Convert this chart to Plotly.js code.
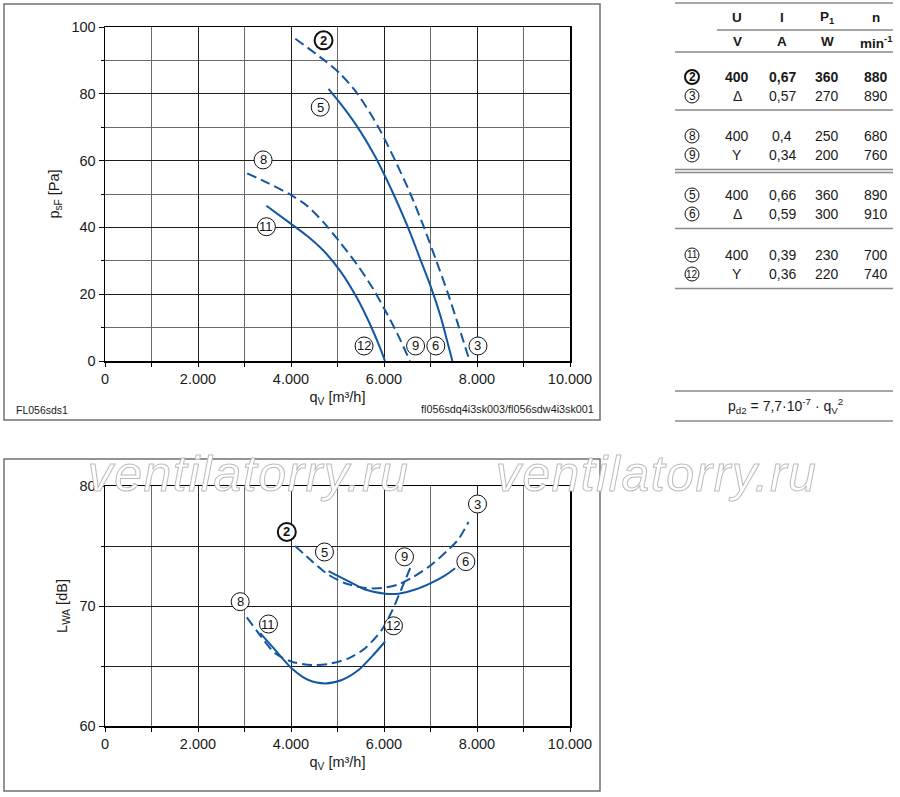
<!DOCTYPE html>
<html><head><meta charset="utf-8">
<script src="https://cdn.plot.ly/plotly-3.0.1.min.js"></script>
<style>
html,body{margin:0;padding:0;background:#fff;}
#chart{width:900px;height:797px;}
g.annotation[data-index="0"] text, g.annotation[data-index="1"] text{fill:#ffffff !important;stroke:#bcbcbc;stroke-width:1px;letter-spacing:1.5px;}
</style></head>
<body><div id="chart"></div>
<script>
// ---------- data: static pressure p_sF [Pa] vs q_V [m3/h] ----------
const psQ_2_3  = [4093, 4720, 5057, 5430, 5880, 6240, 6570, 6860, 7125, 7380, 7615, 7843];
const psV_2_3  = [96.5, 90, 86, 80, 70, 60, 50, 40, 30, 20, 10, 0];
const psQ_5_6  = [4807, 5057, 5414, 5771, 6000, 6271, 6557, 6771, 7000, 7214, 7343, 7471];
const psV_5_6  = [81.5, 77.2, 70.4, 62.2, 56, 47.9, 38.6, 30.8, 22.5, 13.5, 6.8, 0];
const psQ_8_9  = [3057, 3486, 3986, 4343, 4700, 5057, 5414, 5771, 6000, 6286, 6557];
const psV_8_9  = [56.2, 53.4, 49.8, 46.5, 41.5, 35.5, 29, 21.5, 15.8, 8.2, 0];
const psQ_11_12 = [3471, 3986, 4343, 4700, 5057, 5414, 5700, 5914, 6021];
const psV_11_12 = [46.5, 41.2, 37.5, 33, 27, 19, 11, 4, 0];

// ---------- data: sound power L_WA [dB] vs q_V [m3/h] ----------
const lwQ_2_3  = [4090, 4448, 4806, 5165, 5595, 5953, 6312, 6599, 7029, 7387, 7602, 7817];
const lwV_2_3  = [75.0, 73.74, 72.6, 71.9, 71.5, 71.5, 71.8, 72.35, 73.46, 74.7, 75.56, 77.0];
const lwQ_5_6  = [4806, 5165, 5595, 6025, 6312, 6670, 7029, 7315, 7530];
const lwV_5_6  = [72.9, 72.2, 71.37, 71.03, 71.03, 71.37, 71.95, 72.55, 73.15];
const lwQ_8_9  = [3050, 3301, 3659, 4018, 4448, 4806, 5237, 5595, 5953, 6168, 6384, 6563];
const lwV_8_9  = [69.05, 67.74, 66.06, 65.36, 65.08, 65.17, 65.64, 66.48, 68.02, 69.55, 71.5, 73.15];
const lwQ_11_12 = [3337, 3659, 4018, 4376, 4735, 5093, 5452, 5738, 6025];
const lwV_11_12 = [67.74, 66.34, 64.8, 63.83, 63.55, 63.83, 64.66, 65.78, 67.04];

// ---------- tick labels ----------
const qTickVals = [0, 2000, 4000, 6000, 8000, 10000];
const qTickText = ['0', '2.000', '4.000', '6.000', '8.000', '10.000'];
const psTickVals = [0, 20, 40, 60, 80, 100];
const psTickText = ['0', '20', '40', '60', '80', '100'];
const lwTickVals = [60, 70, 80];
const lwTickText = ['60', '70', '80'];

// ---------- table ----------
const tblIds  = ['2', '3', '8', '9', '5', '6', '11', '12'];
const tblU    = ['400', 'Δ', '400', 'Y', '400', 'Δ', '400', 'Y'];
const tblI    = ['0,67', '0,57', '0,4', '0,34', '0,66', '0,59', '0,39', '0,36'];
const tblP    = ['360', '270', '250', '200', '360', '300', '230', '220'];
const tblN    = ['880', '890', '680', '760', '890', '910', '700', '740'];
const tblHead = ['U', 'I', 'P<sub>1</sub>', 'n'];
const tblUnit = ['V', 'A', 'W', 'min<sup>-1</sup>'];

// ---------- label placement (layout) ----------
const psLabels = [
  {t:'2', x:4700, y:96, b:true}, {t:'5', x:4629, y:76}, {t:'8', x:3400, y:60.2}, {t:'11', x:3471, y:40.2},
  {t:'12', x:5571, y:4.5}, {t:'9', x:6679, y:4.5}, {t:'6', x:7114, y:4.5}, {t:'3', x:8021, y:4.5}
];
const lwLabels = [
  {t:'2', x:3910, y:76.17, b:true}, {t:'5', x:4720, y:74.5}, {t:'3', x:8011, y:78.5}, {t:'9', x:6441, y:74.1},
  {t:'6', x:7760, y:73.7}, {t:'8', x:2907, y:70.36}, {t:'11', x:3516, y:68.5}, {t:'12', x:6204, y:68.35}
];

const FONT = 'Liberation Sans, Arial, sans-serif';
const px = x => x / 900;
const py = y => 1 - y / 797;
const blue = 'rgb(18,88,160)';

function curve(q, v, dashed, xa, ya) {
  return {type:'scatter', mode:'lines', x:q, y:v, xaxis:xa, yaxis:ya,
    line:{color:blue, width:2, shape:'spline', smoothing:0.8, dash: dashed ? '10px,5px' : 'solid'},
    hoverinfo:'skip', showlegend:false};
}

const traces = [
  curve(psQ_2_3, psV_2_3, true, 'x', 'y'),
  curve(psQ_5_6, psV_5_6, false, 'x', 'y'),
  curve(psQ_8_9, psV_8_9, true, 'x', 'y'),
  curve(psQ_11_12, psV_11_12, false, 'x', 'y'),
  curve(lwQ_2_3, lwV_2_3, true, 'x2', 'y2'),
  curve(lwQ_5_6, lwV_5_6, false, 'x2', 'y2'),
  curve(lwQ_8_9, lwV_8_9, true, 'x2', 'y2'),
  curve(lwQ_11_12, lwV_11_12, false, 'x2', 'y2')
];

const shapes = [];
const annotations = [];

// watermark (index 0 and 1)
annotations.push({xref:'paper', yref:'paper', x:px(248), y:py(474), text:'ventilatorry.ru', showarrow:false,
  xanchor:'center', yanchor:'middle', font:{family:FONT, size:50, style:'italic', color:'#bcbcbc'}});
annotations.push({xref:'paper', yref:'paper', x:px(656), y:py(474), text:'ventilatorry.ru', showarrow:false,
  xanchor:'center', yanchor:'middle', font:{family:FONT, size:50, style:'italic', color:'#bcbcbc'}});

function circled(x, y, t, bold, xref, yref, r, fs) {
  shapes.push({type:'circle', xref:xref, yref:yref, xsizemode:'pixel', ysizemode:'pixel',
    xanchor:x, yanchor:y, x0:-r, x1:r, y0:-r, y1:r,
    line:{color:'#111', width: bold ? 2 : 1}, fillcolor:'#fff', layer:'above'});
  annotations.push({x:x, y:y, xref:xref, yref:yref, text: bold ? '<b>' + t + '</b>' : t, showarrow:false,
    xanchor:'center', yanchor:'middle', font:{family:FONT, size:fs, color:'#111'}});
}
psLabels.forEach(l => circled(l.x, l.y, l.t, !!l.b, 'x', 'y', 9, 13));
lwLabels.forEach(l => circled(l.x, l.y, l.t, !!l.b, 'x2', 'y2', 9, 13));

// frames
const frameLine = {color:'#707070', width:1.5};
shapes.push({type:'rect', xref:'paper', yref:'paper', x0:px(4), x1:px(600), y0:py(420), y1:py(4), line:frameLine, layer:'below'});
shapes.push({type:'rect', xref:'paper', yref:'paper', x0:px(4), x1:px(600), y0:py(791), y1:py(459), line:frameLine, layer:'below'});

// table lines
const tl = {color:'#8a8a8a', width:1.5};
function hline(y, x0, x1) { shapes.push({type:'line', xref:'paper', yref:'paper', x0:px(x0), x1:px(x1), y0:py(y), y1:py(y), line:tl}); }
hline(3, 675, 893); hline(30, 717, 893); hline(52, 675, 893); hline(110, 675, 893);
hline(169.5, 675, 893); hline(172.5, 675, 893); hline(228.5, 675, 893); hline(288.5, 675, 893);
hline(391, 675, 893); hline(421, 675, 893);

// table text
const colX = [737, 782, 827, 876];
const rowY = [77, 96, 136, 155, 195, 214, 255, 274];
function ptext(x, y, txt, size, bold, anchor) {
  annotations.push({xref:'paper', yref:'paper', x:px(x), y:py(y), text: bold ? '<b>' + txt + '</b>' : txt,
    showarrow:false, xanchor: anchor || 'center', yanchor:'middle', font:{family:FONT, size:size, color:'#1a1a1a'}});
}
tblHead.forEach((h, i) => ptext(colX[i], 17, h, 13.5, true));
tblUnit.forEach((h, i) => ptext(colX[i], 42, h, 13.5, true));
tblIds.forEach((id, r) => {
  const bold = (r === 0);
  circled(px(692), py(rowY[r]), id, bold, 'paper', 'paper', 7, id.length > 1 ? 10 : 12);
  ptext(colX[0], rowY[r], tblU[r], 14, bold);
  ptext(colX[1], rowY[r], tblI[r], 14, bold);
  ptext(colX[2], rowY[r], tblP[r], 14, bold);
  ptext(colX[3], rowY[r], tblN[r], 14, bold);
});
ptext(785, 406, 'p<sub>d2</sub> = 7,7·10<sup>-7</sup> · q<sub>V</sub><sup>2</sup>', 14, false);

// footer notes
ptext(14, 410, 'FL056sds1', 10.5, false, 'left');
annotations.push({xref:'paper', yref:'paper', x:px(596), y:py(409), text:'fl056sdq4i3sk003/fl056sdw4i3sk001',
  showarrow:false, xanchor:'right', yanchor:'middle', font:{family:'Liberation Sans Narrow, Liberation Sans, Arial Narrow, sans-serif', size:10.8, color:'#1a1a1a'}});

const tickFont = {family:FONT, size:14.5, color:'#1a1a1a'};
const titleFont = {family:FONT, size:14.5, color:'#1a1a1a'};
function xAxis(dom, anchor, minorGrid) {
  return {domain:dom, anchor:anchor, range:[0, 10000], tickmode:'array', tickvals:qTickVals, ticktext:qTickText,
    showgrid:true, gridcolor:'#1e1e1e', gridwidth:1, zeroline:false,
    showline:true, mirror:true, linecolor:'#000', linewidth:1.5,
    ticks:'outside', ticklen:4, tickcolor:'#000', tickfont:tickFont,
    minor:{tickmode:'linear', tick0:0, dtick:1000, showgrid:true, gridcolor:minorGrid, gridwidth:1, ticks:'outside', ticklen:4, tickcolor:'#000'},
    title:{text:'q<sub>V</sub> [m³/h]', font:titleFont, standoff:6}, automargin:false, fixedrange:true};
}
const layout = {
  width:900, height:797, margin:{l:0, r:0, t:0, b:0}, paper_bgcolor:'#fff', plot_bgcolor:'#fff',
  font:{family:FONT, color:'#1a1a1a'}, showlegend:false,
  xaxis: xAxis([px(105), px(570)], 'y', '#6a6a6a'),
  yaxis: {domain:[py(361), py(27)], anchor:'x', range:[0, 100], tickmode:'array', tickvals:psTickVals, ticktext:psTickText,
    showgrid:true, gridcolor:'#1e1e1e', gridwidth:1, zeroline:false,
    showline:true, mirror:true, linecolor:'#000', linewidth:1.5,
    ticks:'outside', ticklen:5, tickcolor:'#000', tickfont:tickFont,
    minor:{tickmode:'linear', tick0:0, dtick:10, showgrid:true, gridcolor:'#6a6a6a', gridwidth:1, ticks:'outside', ticklen:3, tickcolor:'#000'},
    title:{text:'p<sub>sF</sub> [Pa]', font:titleFont, standoff:8}, automargin:false, fixedrange:true},
  xaxis2: xAxis([px(105), px(570)], 'y2', '#6a6a6a'),
  yaxis2: {domain:[py(726), py(486)], anchor:'x2', range:[60, 80], tickmode:'array', tickvals:lwTickVals, ticktext:lwTickText,
    showgrid:true, gridcolor:'#1e1e1e', gridwidth:1, zeroline:false,
    showline:true, mirror:true, linecolor:'#000', linewidth:1.5,
    ticks:'outside', ticklen:5, tickcolor:'#000', tickfont:tickFont,
    minor:{tickmode:'linear', tick0:60, dtick:5, showgrid:true, gridcolor:'#1e1e1e', gridwidth:1, ticks:'outside', ticklen:3, tickcolor:'#000'},
    title:{text:'L<sub>WA</sub> [dB]', font:titleFont, standoff:8}, automargin:false, fixedrange:true},
  shapes:shapes, annotations:annotations
};
Plotly.newPlot('chart', traces, layout, {staticPlot:true, displayModeBar:false});
</script></body></html>
